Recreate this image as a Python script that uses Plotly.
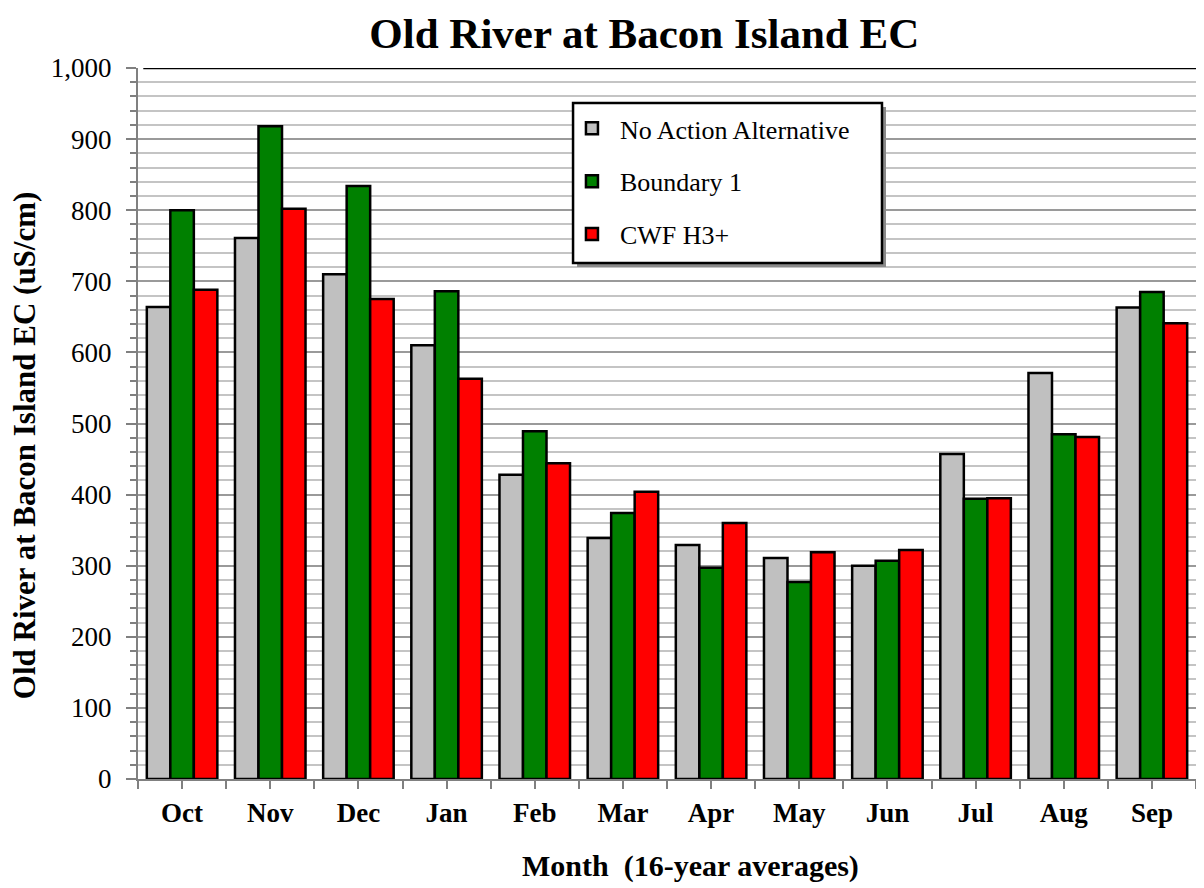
import plotly.graph_objects as go

months = ["Oct", "Nov", "Dec", "Jan", "Feb", "Mar", "Apr", "May", "Jun", "Jul", "Aug", "Sep"]
no_action = [664, 761, 710, 610, 428, 339, 329, 311, 300, 457, 571, 663]
boundary1 = [800, 918, 834, 686, 489, 374, 297, 277, 307, 394, 485, 685]
cwf_h3 = [688, 802, 675, 563, 444, 404, 360, 319, 322, 395, 481, 641]

series = [
    ("No Action Alternative", no_action, "#C0C0C0"),
    ("Boundary 1", boundary1, "#008000"),
    ("CWF H3+", cwf_h3, "#FF0000"),
]

FONT = "Liberation Serif"
xpos = list(range(len(months)))

fig = go.Figure()
for i, (name, vals, col) in enumerate(series):
    fig.add_trace(go.Bar(
        x=xpos, y=vals, name=name, legendgroup=f"g{i}",
        marker=dict(color=col, line=dict(color="black", width=2.5)),
    ))

fig.update_layout(
    width=1196, height=880,
    margin=dict(l=130, r=8, t=60, b=109, autoexpand=False),
    paper_bgcolor="white", plot_bgcolor="white",
    barmode="group", bargap=0.2, bargroupgap=0,
    font=dict(family=FONT, color="black"),
    title=dict(text="<b>Old River at Bacon Island EC</b>", x=0.532, xanchor="center",
               y=0.972, yanchor="middle", font=dict(family=FONT, size=43, color="black")),
    showlegend=True,
    legend=dict(x=0.4026, y=0.948, xanchor="left", yanchor="top",
                bgcolor="rgba(0,0,0,0)", borderwidth=0,
                font=dict(family=FONT, size=26, color="black"),
                tracegroupgap=16, itemwidth=46,
                traceorder="grouped"),
    xaxis=dict(
        range=[-0.5, len(months) - 0.5], tickvals=xpos, ticktext=months,
        ticks="outside", ticklen=8, tickcolor="#808080", tickwidth=2,
        minor=dict(dtick=0.5, tick0=-0.5, ticks="outside", ticklen=8,
                   tickcolor="#808080", tickwidth=2, showgrid=False),
        showline=True, linecolor="#808080", linewidth=2,
        showgrid=False, zeroline=False, automargin=False,
        ticklabelstandoff=1,
        tickfont=dict(family=FONT, size=27, color="black", weight="bold"),
    ),
    yaxis=dict(
        range=[0, 1000], dtick=100, tickformat=",d", ticks="outside", ticklen=10,
        tickcolor="#808080", tickwidth=2, showline=True, linecolor="#808080", linewidth=2,
        showgrid=True, gridcolor="#9A9A9A", gridwidth=2,
        minor=dict(dtick=20, showgrid=True, gridcolor="#C4C4C4", gridwidth=2,
                   ticks="outside", ticklen=6, tickcolor="#808080", tickwidth=2),
        ticklabelstandoff=9,
        tickfont=dict(family=FONT, size=27, color="black"),
        zeroline=False, automargin=False,
    ),
)

# axis titles
fig.add_annotation(text="<b>Month  (16-year averages)</b>", xref="paper", yref="paper",
                   x=0.522, y=-0.122, xanchor="center", yanchor="middle", showarrow=False,
                   font=dict(family=FONT, size=30, color="black"))
fig.add_annotation(text="<b>Old River at Bacon Island EC (uS/cm)</b>", xref="paper", yref="paper",
                   x=-0.1065, y=0.47, xanchor="center", yanchor="middle", showarrow=False,
                   textangle=-90, font=dict(family=FONT, size=31, color="black"))

# legend drop shadow and box
fig.add_shape(type="rect", xref="paper", yref="paper",
              x0=0.4150, x1=0.7070, y0=0.7200, y1=0.9452,
              fillcolor="#8A8A8A", line=dict(width=0), layer="above")
fig.add_shape(type="rect", xref="paper", yref="paper",
              x0=0.4112, x1=0.7032, y0=0.7257, y1=0.9508,
              fillcolor="white", line=dict(color="black", width=2.5), layer="above")
# top border line at 1,000
fig.add_shape(type="line", xref="paper", yref="y", x0=0.005, x1=1, y0=1000, y1=1000,
              line=dict(color="black", width=2.5), layer="above")

fig.write_html("out.html")
